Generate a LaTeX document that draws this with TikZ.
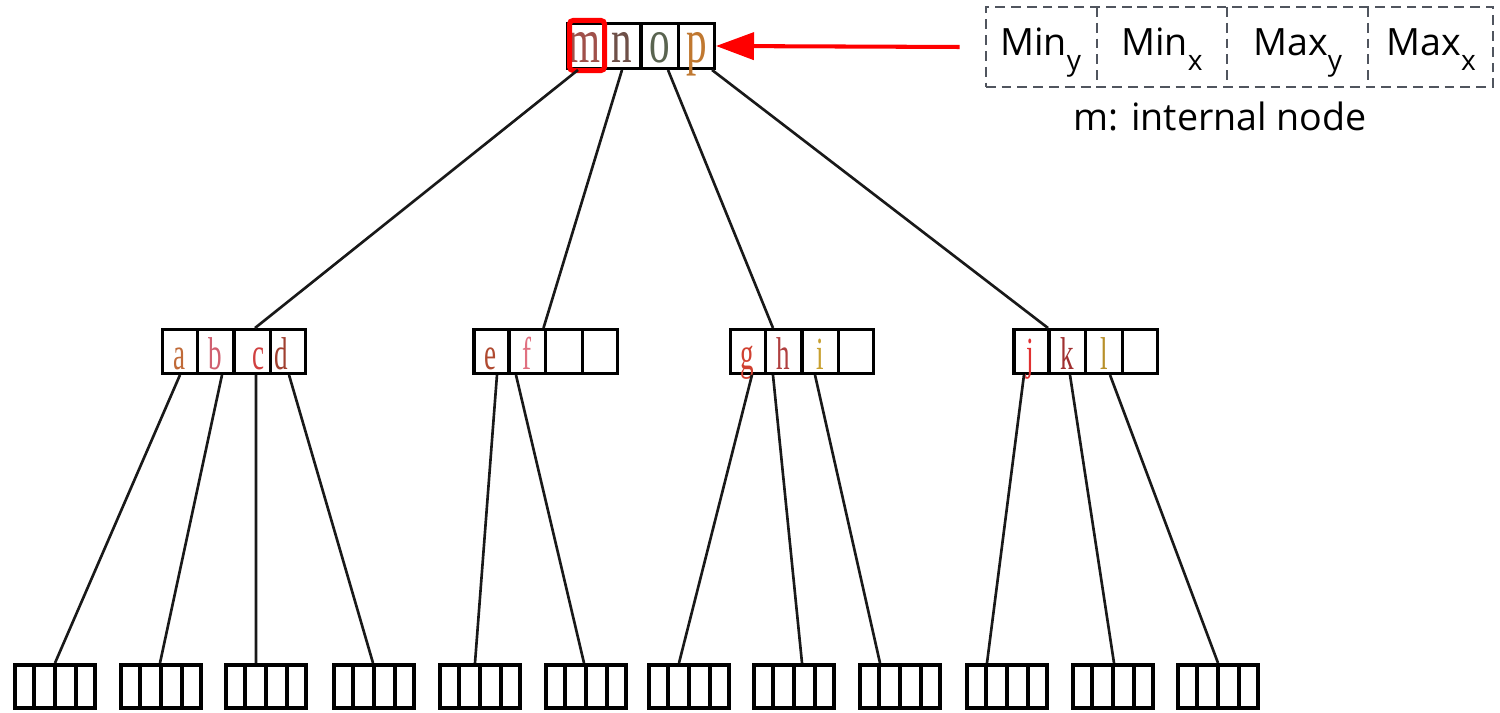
\documentclass[tikz,border=0pt]{standalone}
\usepackage{fontspec}
\usepackage{graphicx}
\setmainfont{Liberation Serif}
\newfontfamily\labelfont{Open Sans}
\usetikzlibrary{shapes.multipart,positioning,arrows.meta}

\definecolor{keyM}{HTML}{A0504A}
\definecolor{keyN}{HTML}{6E5048}
\definecolor{keyO}{HTML}{5A6450}
\definecolor{keyP}{HTML}{C07830}
\definecolor{keyA}{HTML}{C06A38}
\definecolor{keyB}{HTML}{D06070}
\definecolor{keyC}{HTML}{D04040}
\definecolor{keyD}{HTML}{A04030}
\definecolor{keyE}{HTML}{B04A30}
\definecolor{keyF}{HTML}{E07080}
\definecolor{keyG}{HTML}{D04030}
\definecolor{keyH}{HTML}{B04040}
\definecolor{keyI}{HTML}{C8A030}
\definecolor{keyJ}{HTML}{E03030}
\definecolor{keyK}{HTML}{A03030}
\definecolor{keyL}{HTML}{B8902A}
\definecolor{mbrgray}{HTML}{50555E}

% one slot of a record: root keys, inner keys, empty leaf slots
\newcommand{\rkey}[2]{\makebox[0.343cm]{\rule[-0.06cm]{0pt}{0.448cm}\smash{\textcolor{#1}{\scalebox{1}[1.55]{\fontsize{11.7}{12}\selectfont #2}}}}}
\newcommand{\ikey}[2]{\makebox[0.334cm]{\rule[-0.04cm]{0pt}{0.438cm}\smash{\textcolor{#1}{\scalebox{1}[1.7]{\fontsize{7.7}{9}\selectfont #2}}}}}
\newcommand{\lslot}{\makebox[0.171cm]{\rule[-0.05cm]{0pt}{0.431cm}}}
\newcommand{\mbrslot}[2]{\makebox[#1]{\rule[-0.31cm]{0pt}{0.8cm}#2}}
\newcommand{\sub}[1]{\raisebox{-0.14cm}{\fontsize{8}{9}\selectfont #1}}

\begin{document}
\begin{tikzpicture}[x=0.01cm,y=-0.01cm,
  record/.style={draw,line width=0.9pt,inner sep=0pt,rectangle split,
    rectangle split horizontal,rectangle split parts=4},
  leaf/.style={record,line width=1.1pt},
  mbrbox/.style={record,draw=mbrgray,line width=0.6pt,dash pattern=on 2.8pt off 1.7pt},
  hilite/.style={draw=red,line width=1.42pt,rounded corners=1pt,minimum width=0.35cm,minimum height=0.5cm,inner sep=0pt},
  link/.style={draw=black!90,line width=0.75pt},
  pointer/.style={draw=red,line width=1.15pt,-{Triangle[length=0.38cm,width=0.27cm]}}]
  \useasboundingbox (0,0) rectangle (1500,713);

  % root
  \node[record] (root) at (641,46)
    {\rkey{keyM}{m}\nodepart{two}\rkey{keyN}{n}\nodepart{three}\rkey{keyO}{o}\nodepart{four}\rkey{keyP}{p}};
  \node[hilite] (mhl) at ([xshift=0.21cm,yshift=0.005cm]root.west) {};

  % inner level
  \node[record] (nA) at (234,351.5)
    {\ikey{keyA}{a}\nodepart{two}\ikey{keyB}{b}\nodepart{three}\ikey{keyC}{\hspace*{0.12cm}c}\nodepart{four}\ikey{keyD}{d\hspace*{0.16cm}}};
  \node[record] (nB) at (545.5,351.5)
    {\ikey{keyE}{e}\nodepart{two}\ikey{keyF}{f}\nodepart{three}\ikey{black}{}\nodepart{four}\ikey{black}{}};
  \node[record] (nC) at (802,351.5)
    {\ikey{keyG}{g}\nodepart{two}\ikey{keyH}{h}\nodepart{three}\ikey{keyI}{i}\nodepart{four}\ikey{black}{}};
  \node[record] (nD) at (1085.5,351.5)
    {\ikey{keyJ}{j}\nodepart{two}\ikey{keyK}{k}\nodepart{three}\ikey{keyL}{l}\nodepart{four}\ikey{black}{}};

  % leaves
  \foreach \x [count=\i] in {55,161,266,374,480,586,689,794,900,1007,1113,1218}
    \node[leaf] (l\i) at (\x,686.5) {\lslot\nodepart{two}\lslot\nodepart{three}\lslot\nodepart{four}\lslot};

  % root -> inner
  \draw[link] ([xshift=-0.63cm]root.south) -- ([xshift=0.21cm]nA.north);
  \draw[link] ([xshift=-0.19cm]root.south) -- ([xshift=-0.02cm]nB.north);
  \draw[link] ([xshift=0.27cm]root.south) -- ([xshift=-0.29cm]nC.north);
  \draw[link] ([xshift=0.71cm]root.south) -- ([xshift=-0.375cm]nD.north);

  % inner -> leaves
  \draw[link] ([xshift=-0.54cm]nA.south) -- (l1.north);
  \draw[link] ([xshift=-0.12cm]nA.south) -- ([xshift=-0.01cm]l2.north);
  \draw[link] ([xshift=0.22cm]nA.south) -- ([xshift=-0.1cm]l3.north);
  \draw[link] ([xshift=0.55cm]nA.south) -- ([xshift=-0.01cm]l4.north);
  \draw[link] ([xshift=-0.485cm]nB.south) -- ([xshift=-0.05cm]l5.north);
  \draw[link] ([xshift=-0.295cm]nB.south) -- ([xshift=-0.02cm]l6.north);
  \draw[link] ([xshift=-0.5cm]nC.south) -- ([xshift=-0.1cm]l7.north);
  \draw[link] ([xshift=-0.29cm]nC.south) -- ([xshift=0.08cm]l8.north);
  \draw[link] ([xshift=0.13cm]nC.south) -- ([xshift=-0.2cm]l9.north);
  \draw[link] ([xshift=-0.615cm]nD.south) -- ([xshift=-0.2cm]l10.north);
  \draw[link] ([xshift=-0.155cm]nD.south) -- ([xshift=0.01cm]l11.north);
  \draw[link] ([xshift=0.245cm]nD.south) -- (l12.north);

  % bounding box entry
  \node[mbrbox,font=\labelfont\fontsize{10.7}{12}\selectfont] (mbr) at (1239.5,47)
    {\mbrslot{1.1cm}{Min\sub{y}}\nodepart{two}\mbrslot{1.28cm}{Min\sub{x}}\nodepart{three}\mbrslot{1.39cm}{Max\sub{y}}\nodepart{four}\mbrslot{1.24cm}{Max\sub{x}}};
  \node[below=0.13cm of mbr,xshift=-0.195cm,inner sep=0pt,font=\labelfont\fontsize{10.7}{12}\selectfont] (cap) {m: internal node};
  \draw[pointer] ([xshift=-0.25cm]mbr.west) -- (root.east);
\end{tikzpicture}
\end{document}
